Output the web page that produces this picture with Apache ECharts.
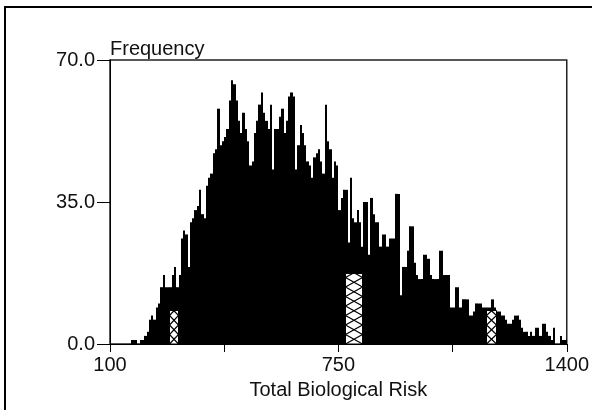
<!DOCTYPE html>
<html>
<head>
<meta charset="utf-8">
<script src="https://cdn.jsdelivr.net/npm/echarts@6/dist/echarts.min.js"></script>
<style>
  html, body { margin: 0; padding: 0; background: #fff; }
  #chart { width: 592px; height: 410px; }
</style>
</head>
<body>
<div id="chart"></div>
<script>
// histogram bins: start, width, counts
const binStart = 100;
const binWidth = 6.5;
const frequency = [
  0, 0, 0, 0, 0, 0, 0, 0, 0, 1, 1, 1, 0, 1, 1, 2, 3, 6, 7, 6,
  9, 10, 14, 17, 14, 14, 14, 17, 19, 14, 17, 26, 28, 27, 19, 30, 31, 33, 34, 38,
  32, 31, 39, 41, 42, 47, 48, 58, 49, 50, 51, 53, 60, 65, 64, 60, 55, 52, 57, 53,
  50, 44, 45, 52, 55, 59, 62, 57, 55, 53, 59, 43, 53, 53, 56, 58, 52, 55, 61, 62,
  61, 43, 49, 54, 52, 49, 45, 44, 41, 46, 47, 48, 45, 42, 59, 50, 48, 41, 45, 44,
  33, 36, 38, 38, 25, 41, 31, 30, 33, 30, 24, 35, 35, 22, 36, 32, 30, 30, 24, 27,
  27, 24, 26, 26, 26, 37, 37, 12, 19, 19, 23, 29, 29, 20, 17, 16, 16, 22, 22, 21,
  17, 16, 16, 16, 23, 23, 17, 17, 17, 9, 9, 14, 14, 9, 11, 11, 11, 7, 7, 8,
  10, 10, 10, 9, 9, 9, 9, 11, 9, 8, 8, 7, 7, 6, 5, 5, 6, 7, 7, 6,
  4, 3, 3, 2, 3, 2, 4, 4, 2, 5, 5, 3, 2, 1, 4, 0, 0, 2, 1, 1
];

// hatched (selected) bars
const hatchFrom = [268, 770, 1171];
const hatchTo = [296, 821, 1202];
const hatchHeight = [8.5, 17.5, 8.3];

const xTickLabels = { 100: '100', 750: '750', 1400: '1400' };
const yTicks = [0, 35, 70];

const bins = frequency.map((f, i) => [binStart + i * binWidth, binStart + (i + 1) * binWidth, f]);
const hatches = hatchFrom.map((a, i) => [a, hatchTo[i], hatchHeight[i]]);

const font = 'Liberation Sans, Arial, sans-serif';

function renderBar(params, api) {
  const p0 = api.coord([api.value(0), api.value(2)]);
  const p1 = api.coord([api.value(1), 0]);
  const x0 = Math.round(p0[0]), x1 = Math.round(p1[0]);
  return {
    type: 'rect',
    shape: { x: x0, y: p0[1], width: x1 - x0, height: p1[1] - p0[1] },
    style: { fill: '#000' }
  };
}

function zig(t) {
  const m = t % 2;
  return m < 1 ? m : 2 - m;
}

function renderHatch(params, api) {
  const p0 = api.coord([api.value(0), api.value(2)]);
  const p1 = api.coord([api.value(1), 0]);
  const x0 = Math.round(p0[0]) + 0.5, x1 = Math.round(p1[0]) - 0.5;
  const top = Math.round(p0[1]) + 0.5, bottom = Math.round(p1[1]);
  const w = x1 - x0, h = bottom - top;
  const step = 9.5;
  const a = [], b = [];
  for (let d = 0; d < h; d += step) {
    a.push([x0 + w * zig(d / step), bottom - d]);
    b.push([x1 - w * zig(d / step), bottom - d]);
  }
  a.push([x0 + w * zig(h / step), top]);
  b.push([x1 - w * zig(h / step), top]);
  return {
    type: 'group',
    children: [
      { type: 'rect', shape: { x: x0, y: top, width: w, height: h }, style: { fill: '#fff', stroke: '#000', lineWidth: 1 } },
      { type: 'polyline', shape: { points: a }, style: { fill: null, stroke: '#000', lineWidth: 1.2 } },
      { type: 'polyline', shape: { points: b }, style: { fill: null, stroke: '#000', lineWidth: 1.2 } }
    ]
  };
}

const chart = echarts.init(document.getElementById('chart'));
chart.setOption({
  animation: false,
  backgroundColor: '#fff',
  grid: {
    left: 110, right: 24, top: 60, bottom: 66,
    show: true, borderColor: '#222', borderWidth: 1.5, backgroundColor: 'transparent'
  },
  graphic: [{
    type: 'polyline',
    shape: { points: [[5, 410], [5, 7], [592, 7]] },
    style: { fill: null, stroke: '#000', lineWidth: 2 }
  }],
  xAxis: {
    type: 'value', min: 100, max: 1400, interval: 325,
    axisLine: { lineStyle: { color: '#000', width: 1 } },
    axisTick: { length: 8, lineStyle: { color: '#000' } },
    axisLabel: {
      margin: 11, color: '#111', fontFamily: font, fontSize: 20,
      showMinLabel: true, showMaxLabel: true,
      formatter: v => xTickLabels[v] || ''
    },
    splitLine: { show: false },
    name: 'Total Biological Risk', nameLocation: 'middle', nameGap: 36,
    nameTextStyle: { color: '#111', fontFamily: font, fontSize: 20 }
  },
  yAxis: {
    type: 'value', min: 0, max: 70, interval: 35,
    axisLine: { show: true, lineStyle: { color: '#000', width: 1 } },
    axisTick: { show: true, length: 13, lineStyle: { color: '#000' } },
    axisLabel: {
      margin: 15, color: '#111', fontFamily: font, fontSize: 20,
      formatter: v => (yTicks.indexOf(v) >= 0 ? v.toFixed(1) : '')
    },
    splitLine: { show: false },
    name: 'Frequency', nameLocation: 'end', nameGap: 1,
    nameTextStyle: { color: '#111', fontFamily: font, fontSize: 20, align: 'left', verticalAlign: 'bottom' }
  },
  series: [
    { type: 'custom', renderItem: renderBar, data: bins, encode: { x: [0, 1], y: 2 }, silent: true },
    { type: 'custom', renderItem: renderHatch, data: hatches, encode: { x: [0, 1], y: 2 }, silent: true, z: 3 }
  ]
});
</script>
</body>
</html>
